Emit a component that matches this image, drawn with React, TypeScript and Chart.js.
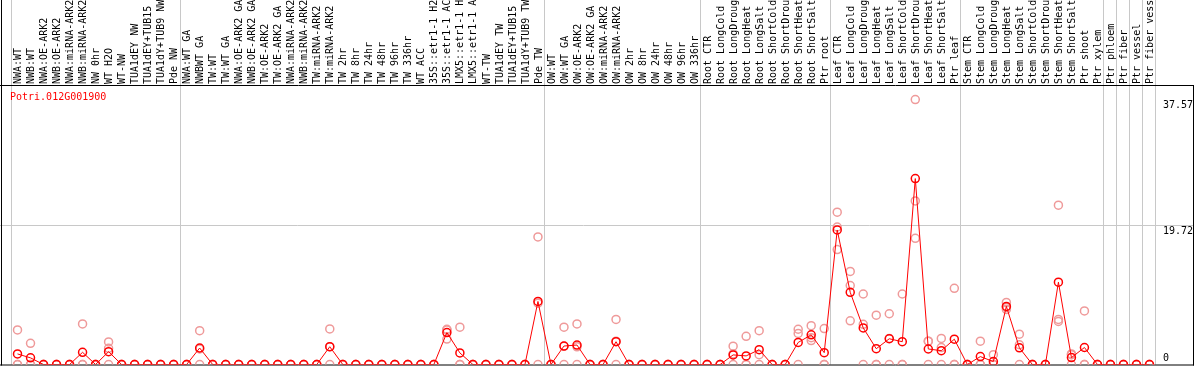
import React, { useEffect, useRef } from 'react';
import { Chart, registerables } from 'chart.js';

Chart.register(...registerables);

const chartTitle = 'Potri.012G001900';

const categories = [
  // NW group
  'NWA:WT', 'NWB:WT', 'NWA:OE-ARK2', 'NWB:OE-ARK2', 'NWA:miRNA-ARK2', 'NWB:miRNA-ARK2',
  'NW 0hr', 'WT H2O', 'WT-NW', 'TUA1dEY NW', 'TUA1dEY+TUB15 NW', 'TUA1dY+TUB9 NW', 'Pde NW',
  // TW group
  'NWA:WT GA', 'NWBWT GA', 'TW:WT', 'TW:WT GA', 'NWA:OE-ARK2 GA', 'NWB:OE-ARK2 GA',
  'TW:OE-ARK2', 'TW:OE-ARK2 GA', 'NWA:miRNA-ARK2 GA', 'NWB:miRNA-ARK2 GA', 'TW:miRNA-ARK2',
  'TW:miRNA-ARK2 GA', 'TW 2hr', 'TW 8hr', 'TW 24hr', 'TW 48hr', 'TW 96hr', 'TW 336hr', 'WT ACC',
  '35S::etr1-1 H2O', '35S::etr1-1 ACC', 'LMX5::etr1-1 H2O', 'LMX5::etr1-1 ACC', 'WT-TW',
  'TUA1dEY TW', 'TUA1dEY+TUB15 TW', 'TUA1dY+TUB9 TW', 'Pde TW',
  // OW group
  'OW:WT', 'OW:WT GA', 'OW:OE-ARK2', 'OW:OE-ARK2 GA', 'OW:miRNA-ARK2', 'OW:miRNA-ARK2 GA',
  'OW 2hr', 'OW 8hr', 'OW 24hr', 'OW 48hr', 'OW 96hr', 'OW 336hr',
  // Root
  'Root CTR', 'Root LongCold', 'Root LongDrought', 'Root LongHeat', 'Root LongSalt',
  'Root ShortCold', 'Root ShortDrought', 'Root ShortHeat', 'Root ShortSalt', 'Ptr root',
  // Leaf
  'Leaf CTR', 'Leaf LongCold', 'Leaf LongDrought', 'Leaf LongHeat', 'Leaf LongSalt',
  'Leaf ShortCold', 'Leaf ShortDrought', 'Leaf ShortHeat', 'Leaf ShortSalt', 'Ptr leaf',
  // Stem
  'Stem CTR', 'Stem LongCold', 'Stem LongDrought', 'Stem LongHeat', 'Stem LongSalt',
  'Stem ShortCold', 'Stem ShortDrought', 'Stem ShortHeat', 'Stem ShortSalt', 'Ptr shoot', 'Ptr xylem',
  // single tissues
  'Ptr phloem', 'Ptr fiber', 'Ptr vessel', 'Ptr fiber vessel',
];

// index of first category in each group (last entry = end)
const groupStarts = [0, 13, 41, 53, 63, 73, 84, 85, 86, 87, 88];

const meanValues = [
  1.5, 0.94, 0, 0, 0, 1.73, 0, 1.82, 0, 0, 0, 0, 0,
  0, 2.34, 0, 0, 0, 0, 0, 0, 0, 0, 0, 2.52, 0, 0, 0, 0, 0, 0, 0, 0, 4.53, 1.64, 0, 0, 0, 0, 0, 8.94,
  0, 2.62, 2.76, 0, 0, 3.23, 0, 0, 0, 0, 0, 0,
  0, 0, 1.36, 1.22, 2.1, 0, 0, 3.13, 4.21, 1.68,
  19.08, 10.24, 5.19, 2.24, 3.65, 3.23, 26.37, 2.2, 1.96, 3.59,
  0, 1.12, 0.42, 8.24, 2.37, 0, 0, 11.68, 0.98, 2.41, 0,
  0, 0, 0, 0,
];

const replicate1 = [
  4.9, 3.0, 0, 0, 0, 5.75, 0, 3.2, 0, 0, 0, 0, 0,
  0, 4.8, 0, 0, 0, 0, 0, 0, 0, 0, 0, 5.05, 0, 0, 0, 0, 0, 0, 0, 0, 5.0, 5.3, 0, 0, 0, 0, 0, 18.1,
  0, 5.3, 5.75, 0, 0, 6.4, 0, 0, 0, 0, 0, 0,
  0, 0, 2.6, 4.0, 4.8, 0, 0, 5.0, 5.5, 5.1,
  21.6, 13.2, 10.0, 7.0, 7.2, 10.0, 37.57, 3.3, 3.7, 10.8,
  0, 3.3, 1.4, 8.8, 4.3, 0, 0, 22.6, 1.5, 7.6, 0,
  0, 0, 0, 0,
];

const replicate2 = [
  0, 0, 0, 0, 0, 0, 0, 2.3, 0, 0, 0, 0, 0,
  0, 2.2, 0, 0, 0, 0, 0, 0, 0, 0, 0, 2.5, 0, 0, 0, 0, 0, 0, 0, 0, 4.9, 0, 0, 0, 0, 0, 0, 8.7,
  0, 2.6, 2.5, 0, 0, 3.3, 0, 0, 0, 0, 0, 0,
  0, 0, 1.5, 0, 1.4, 0, 0, 4.4, 3.4, 0,
  19.5, 11.2, 5.7, 0, 3.7, 0, 23.2, 3.3, 2.4, 0,
  0, 0, 0, 7.8, 2.8, 0, 0, 6.4, 1.4, 0, 0,
  0, 0, 0, 0,
];

const replicate3 = [
  0, 0, 0, 0, 0, 0, 0, 0, 0, 0, 0, 0, 0,
  0, 0, 0, 0, 0, 0, 0, 0, 0, 0, 0, 0, 0, 0, 0, 0, 0, 0, 0, 0, 3.6, 0, 0, 0, 0, 0, 0, 0,
  0, 0, 0, 0, 0, 0, 0, 0, 0, 0, 0, 0,
  0, 0, 0, 0, 0, 0, 0, 0, 3.8, 0,
  16.3, 6.2, 0, 0, 0, 0, 17.9, 0, 0, 0,
  0, 0, 0, 8.1, 0, 0, 0, 6.1, 0, 0, 0,
  0, 0, 0, 0,
];

const yTickValues = [0, 19.72, 37.57];
const yMax = 39.5;

const FONT_FAMILY = "'DejaVu Sans Mono', monospace";
const MEAN_COLOR = '#ff0000';
const REP_COLOR = '#ef9a9a';
const GRID_COLOR = '#c8c8c8';

export default function App() {
  const ref = useRef<HTMLCanvasElement>(null);

  useEffect(() => {
    document.body.style.margin = '0';
    const canvas = ref.current;
    if (!canvas) return;

    const framePlugin = {
      id: 'framePlugin',
      beforeDatasetsDraw(chart: any) {
        const { ctx, width, chartArea } = chart;
        ctx.save();
        ctx.strokeStyle = '#000';
        ctx.lineWidth = 1;
        ctx.beginPath();
        ctx.moveTo(1.5, 0);
        ctx.lineTo(1.5, chartArea.bottom + 1);
        ctx.moveTo(0, chartArea.top - 0.5);
        ctx.lineTo(width, chartArea.top - 0.5);
        ctx.moveTo(width - 0.5, chartArea.top - 0.5);
        ctx.lineTo(width - 0.5, chartArea.bottom + 1);
        ctx.moveTo(0, chartArea.bottom + 0.5);
        ctx.lineTo(width, chartArea.bottom + 0.5);
        ctx.stroke();
        ctx.fillStyle = MEAN_COLOR;
        ctx.font = `10px ${FONT_FAMILY}`;
        ctx.textAlign = 'left';
        ctx.textBaseline = 'middle';
        ctx.fillText(chartTitle, 10, chartArea.top + 11);
        ctx.restore();
      },
    };

    const boundaryColor = (c: any) => {
      const i = typeof c.index === 'number' ? c.index : categories.length;
      return groupStarts.includes(i) ? GRID_COLOR : 'rgba(0,0,0,0)';
    };
    const yGridColor = (c: any) =>
      c.tick && c.tick.value === 19.72 ? GRID_COLOR : 'rgba(0,0,0,0)';
    const zeroPadding = (s: any) => {
      s.paddingLeft = 0;
      s.paddingRight = 0;
      s.paddingTop = 0;
      s.paddingBottom = 0;
    };

    const repDataset = (data: number[]) => ({
      data,
      showLine: false,
      pointRadius: 4,
      pointBorderWidth: 1.5,
      pointBorderColor: REP_COLOR,
      pointBackgroundColor: 'rgba(0,0,0,0)',
      borderColor: REP_COLOR,
      order: 1,
    });

    const chart = new Chart(canvas, {
      type: 'line',
      data: {
        labels: categories,
        datasets: [
          {
            data: meanValues,
            borderColor: MEAN_COLOR,
            borderWidth: 1,
            tension: 0,
            pointRadius: 4,
            pointBorderWidth: 1.5,
            pointBorderColor: MEAN_COLOR,
            pointBackgroundColor: 'rgba(0,0,0,0)',
            order: 0,
          },
          repDataset(replicate1),
          repDataset(replicate2),
          repDataset(replicate3),
        ],
      } as any,
      options: {
        animation: false,
        responsive: false,
        devicePixelRatio: 1,
        events: [],
        layout: { padding: { left: 0, right: 0, top: 0, bottom: 1 } },
        plugins: {
          legend: { display: false },
          tooltip: { enabled: false },
          title: { display: false },
        },
        scales: {
          x: {
            type: 'category',
            position: 'top',
            offset: true,
            grid: {
              offset: true,
              drawOnChartArea: true,
              drawTicks: true,
              tickLength: 86,
              lineWidth: 1,
              color: boundaryColor,
            },
            border: { display: false },
            ticks: {
              autoSkip: false,
              minRotation: 90,
              maxRotation: 90,
              padding: -84,
              labelOffset: 13,
              color: '#000',
              font: { family: FONT_FAMILY, size: 10 },
            },
            afterFit: (s: any) => {
              s.height = 86;
              zeroPadding(s);
            },
          },
          y: {
            position: 'right',
            min: 0,
            max: yMax,
            afterBuildTicks: (s: any) => {
              s.ticks = yTickValues.map((v) => ({ value: v }));
            },
            grid: { color: yGridColor, tickLength: 37, lineWidth: 1 },
            border: { display: false },
            ticks: {
              padding: -30,
              color: '#000',
              font: { family: FONT_FAMILY, size: 10 },
              callback: (v: any) => (v === 0 ? ['0', ''] : ['', String(v)]),
            },
            afterFit: (s: any) => {
              s.width = 38;
              zeroPadding(s);
            },
          },
          yl: {
            position: 'left',
            min: 0,
            max: yMax,
            afterBuildTicks: (s: any) => {
              s.ticks = yTickValues.map((v) => ({ value: v }));
            },
            grid: { drawOnChartArea: false, color: yGridColor, tickLength: 11, lineWidth: 1 },
            border: { display: false },
            ticks: { display: false },
            afterFit: (s: any) => {
              s.width = 11;
              zeroPadding(s);
            },
          },
        },
      } as any,
      plugins: [framePlugin],
    });

    return () => chart.destroy();
  }, []);

  return <canvas ref={ref} width={1194} height={370} style={{ display: 'block' }} />;
}
